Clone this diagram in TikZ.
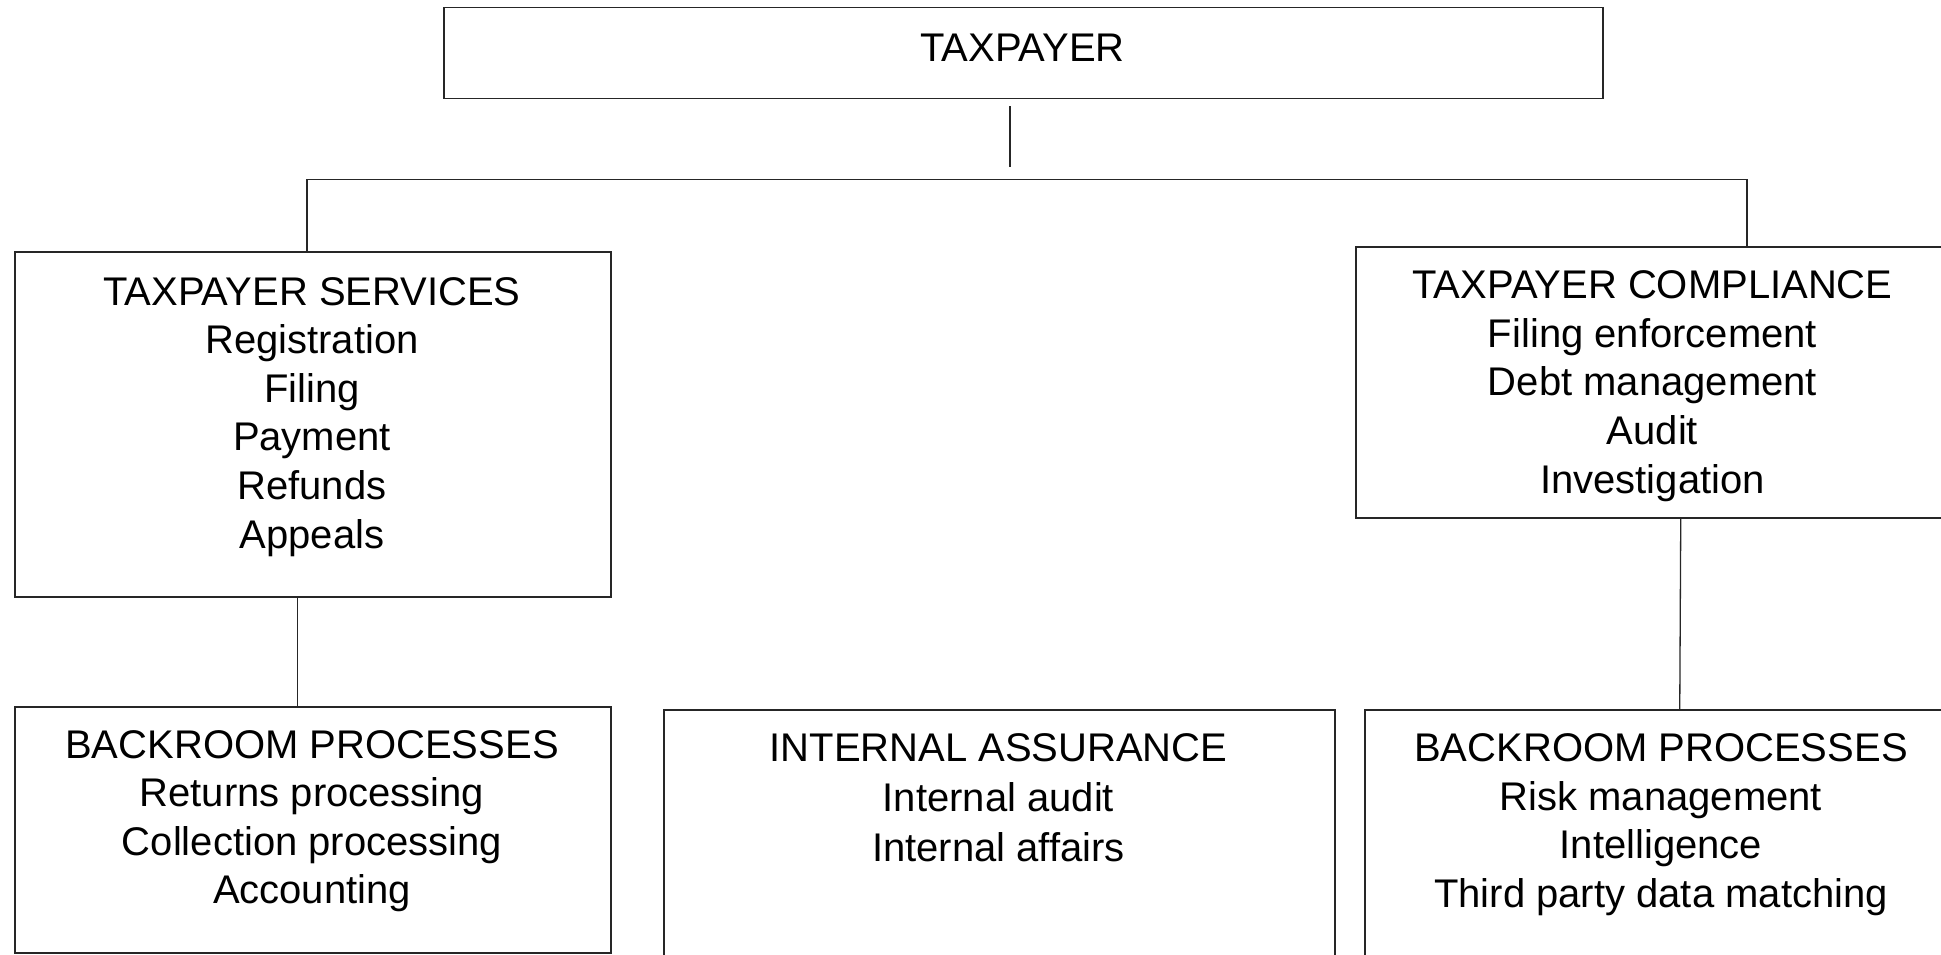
\documentclass[tikz,border=0pt]{standalone}
\usepackage{fontspec}
\setmainfont{Liberation Sans}
\usetikzlibrary{calc}
\begin{document}
\begin{tikzpicture}[x=1pt,y=-1pt,
  orgbox/.style={draw=black!85, line width=1.5pt, inner sep=0pt, anchor=north west},
  orgtext/.style={anchor=north, inner sep=0pt, align=center, font=\fontsize{40}{48.6}\selectfont},
  widetext/.style={orgtext, font=\fontsize{40}{50}\selectfont},
  link/.style={draw=black!85, line width=1.3pt}]
\useasboundingbox (0,0) rectangle (1941,955);
% boxes
\node[orgbox, minimum width=1159pt, minimum height=91pt] (tp) at (443,7) {};
\node[orgbox, minimum width=596pt, minimum height=345pt] (ts) at (14,251) {};
\node[orgbox, minimum width=595pt, minimum height=271pt] (tc) at (1355,246) {};
\node[orgbox, minimum width=596pt, minimum height=246pt] (bl) at (14,706) {};
\node[orgbox, minimum width=671pt, minimum height=270pt] (ia) at (663,709) {};
\node[orgbox, minimum width=594pt, minimum height=270pt] (br) at (1364,709) {};
% texts
\node[orgtext] (tpT) at (1022.5,33.4) {TAXPAYER};
\node[orgtext] (tsT) at (312,277) {TAXPAYER SERVICES\\Registration\\Filing\\Payment\\Refunds\\Appeals};
\node[orgtext] (tcT) at (1652.5,270.5) {TAXPAYER COMPLIANCE\\Filing enforcement\\Debt management\\Audit\\Investigation};
\node[orgtext] (blT) at (312,730) {BACKROOM PROCESSES\\Returns processing\\Collection processing\\Accounting};
\node[widetext] (iaT) at (998.5,733.4) {INTERNAL ASSURANCE\\Internal audit\\Internal affairs};
\node[orgtext] (brT) at (1661,733.6) {BACKROOM PROCESSES\\Risk management\\Intelligence\\Third party data matching};
% connector coordinates
\coordinate (hl) at (307,179.5);
\coordinate (hm) at (1010,179.5);
\coordinate (hr) at (1747,179.5);
% connectors
\draw[link] ($(tp.south -| hm)+(0,7)$) -- ($(hm)+(0,-12.5)$);
\draw[link] (hl |- ts.north) -- (hl) -- (hr) -- (hr |- tc.north);
\draw[link] ([xshift=-15pt]ts.south) -- ([xshift=-15pt]bl.north);
\draw[link] ([xshift=27.5pt]tc.south) -- ([xshift=18pt]br.north);
\end{tikzpicture}
\end{document}
